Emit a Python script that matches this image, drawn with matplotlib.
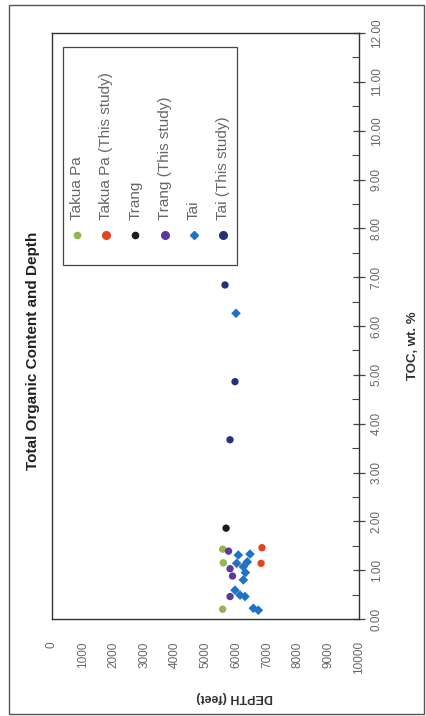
import matplotlib
matplotlib.use('Agg')
import matplotlib.pyplot as plt
from matplotlib.patches import Rectangle

plt.rcParams['font.family'] = ['Liberation Sans', 'DejaVu Sans']

# depth (feet) and TOC (wt. %)
takua_depth = [5560, 5580, 5560]
takua_toc = [1.43, 1.15, 0.20]
takua_study_depth = [6840, 6810]
takua_study_toc = [1.46, 1.14]
trang_depth = [5670]
trang_toc = [1.86]
trang_study_depth = [5750, 5800, 5880, 5800]
trang_study_toc = [1.39, 1.03, 0.88, 0.46]
tai_depth = [6068, 6450, 6362, 6232, 6015, 6300, 6232, 5960, 6124, 6287, 6558, 6720, 5993]
tai_toc = [1.31, 1.33, 1.17, 1.07, 1.14, 0.95, 0.80, 0.59, 0.49, 0.46, 0.22, 0.18, 6.26]
tai_study_depth = [5635, 5961, 5798]
tai_study_toc = [6.84, 4.86, 3.67]

names = ['Takua Pa', 'Takua Pa (This study)', 'Trang', 'Trang (This study)',
         'Tai', 'Tai (This study)']
depths = [takua_depth, takua_study_depth, trang_depth, trang_study_depth,
          tai_depth, tai_study_depth]
tocs = [takua_toc, takua_study_toc, trang_toc, trang_study_toc, tai_toc, tai_study_toc]
colors = ['#93b450', '#e5421e', '#1c1c1c', '#5a3b98', '#1f72c8', '#27307c']
markers = ['o', 'o', 'o', 'o', 'D', 'o']

depth_ticks = list(range(0, 10001, 1000))
toc_ticks = list(range(0, 13))

fig = plt.figure(figsize=(4.27, 7.16), dpi=100)
ax = fig.add_axes([52 / 427, 1 - 619 / 716, 307 / 427, 586 / 716])

# chart is shown turned a quarter turn: depth runs across, TOC runs up
for d, t, c, m in zip(depths, tocs, colors, markers):
    ax.scatter(d, t, color=c, marker=m, s=28 if m == 'o' else 24,
               edgecolors='none', zorder=3)

ax.set_xlim(0, 10000)
ax.set_ylim(0, 12)
ax.set_xticks(depth_ticks)
ax.set_xticklabels([str(v) for v in depth_ticks])
ax.set_yticks(toc_ticks)
ax.set_yticklabels(['%.2f' % v for v in toc_ticks])
ax.set_yticks([v + 0.5 for v in toc_ticks[:-1]], minor=True)

ax.yaxis.tick_right()
ax.tick_params(axis='x', length=0, pad=16, labelsize=8.5, labelcolor='#666666',
               labelrotation=90)
ax.tick_params(axis='y', which='major', direction='inout', length=9, width=0.9,
               color='#444444', pad=4, labelsize=8.5, labelcolor='#666666',
               labelrotation=90)
ax.tick_params(axis='y', which='minor', direction='in', length=5, width=0.8,
               color='#444444')
for lab in ax.get_yticklabels():
    lab.set_verticalalignment('center')
    lab.set_horizontalalignment('left')
for lab in ax.get_xticklabels():
    lab.set_verticalalignment('top')

for sp in ax.spines.values():
    sp.set_color('#333333')
    sp.set_linewidth(1.0)

ax.yaxis.set_label_position('right')
ax.set_ylabel('TOC, wt. %', fontsize=9.5, fontweight='bold', color='#333333',
              rotation=90, ha='center', va='center')
ax.yaxis.set_label_coords(1.176, 0.466)
ax.set_xlabel('DEPTH (feet)', fontsize=9, fontweight='bold', color='#333333',
              rotation=180, ha='center', va='center')
ax.xaxis.set_label_coords(0.596, -0.133)

ax.text(-0.062, 0.457, 'Total Organic Content and Depth', transform=ax.transAxes,
        rotation=90, ha='center', va='center', fontsize=11, fontweight='bold',
        color='#222222')

# legend, turned with the chart
ax.add_patch(Rectangle((0.036, 0.604), 0.567, 0.372, transform=ax.transAxes,
                       fill=False, edgecolor='#444444', linewidth=0.9, zorder=4))
for i, (n, c, m) in enumerate(zip(names, colors, markers)):
    x = 0.081 + i * 0.0954
    ax.plot([x], [0.655], marker=m, color=c, markersize=4.5 if i % 2 == 0 else 5.5,
            linestyle='none', transform=ax.transAxes, clip_on=False, zorder=5)
    ax.text(x, 0.681, n, transform=ax.transAxes, rotation=90, ha='center',
            va='bottom', fontsize=11, color='#666666', zorder=5)

fig.patches.append(Rectangle((9 / 427, 2 / 716), 415 / 427, 709 / 716,
                             transform=fig.transFigure, fill=False,
                             edgecolor='#555555', linewidth=1.0))

fig.savefig('out.png', dpi=100)
